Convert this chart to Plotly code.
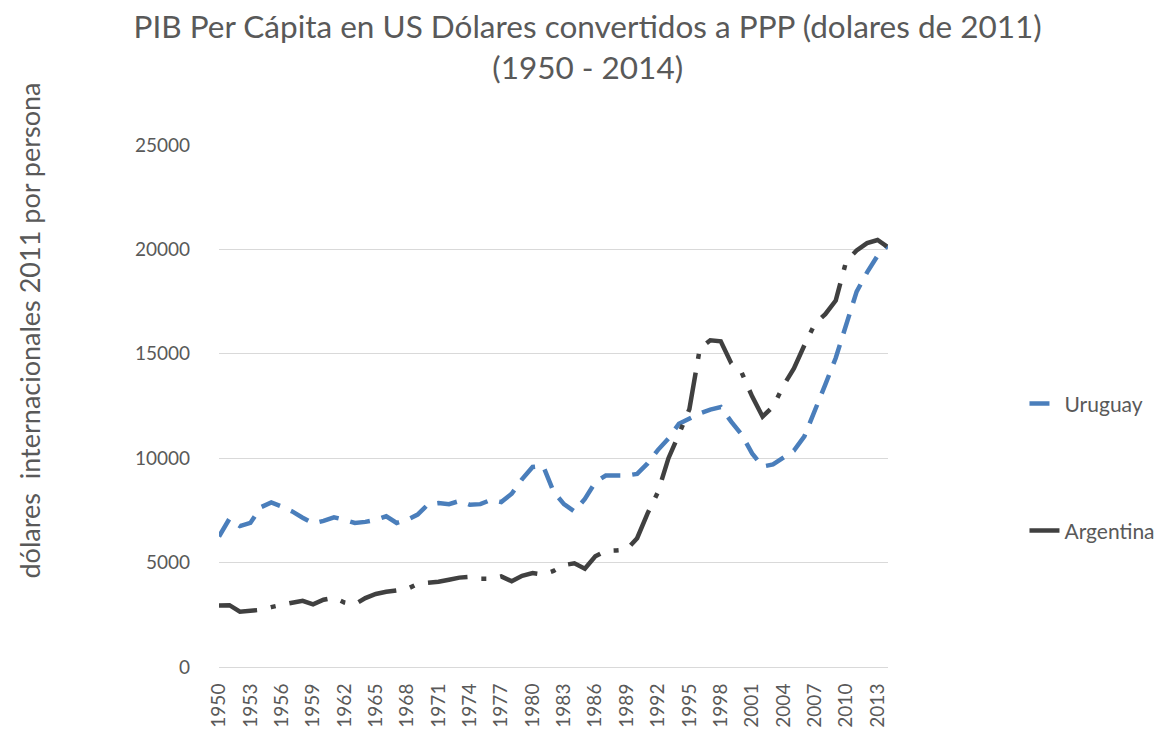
"""PIB per cápita Uruguay vs Argentina (1950-2014), estilo gráfico de Excel."""

import plotly.graph_objects as go

ANIOS = list(range(1950, 2015))

URUGUAY = [
    6250, 7100, 6750, 6900, 7650, 7880, 7680, 7450, 7150, 6880,
    7000, 7170, 7050, 6900, 6950, 7050, 7220, 6900, 7050, 7300,
    7790, 7850, 7800, 7950, 7770, 7800, 8000, 7900, 8300, 9000,
    9580, 9640, 8400, 7800, 7450, 8050, 8850, 9170, 9170, 9170,
    9250, 9750, 10400, 10950, 11650, 11900, 12150, 12330, 12450, 11750,
    11130, 10230, 9600, 9700, 10020, 10360, 11050, 12250, 13520, 14800,
    16450, 17980, 18900, 19700, 20200,
]

ARGENTINA = [
    2950, 2960, 2650, 2690, 2740, 2870, 2990, 3080, 3170, 3000,
    3220, 3320, 3090, 3000, 3300, 3500, 3600, 3680, 3740, 3980,
    4020, 4080, 4180, 4280, 4320, 4230, 4230, 4340, 4110, 4370,
    4500, 4430, 4600, 4880, 4970, 4710, 5300, 5560, 5580, 5620,
    6170, 7360, 8390, 10000, 11150, 12350, 15250, 15650, 15600, 14550,
    14100, 12960, 11990, 12470, 13480, 14300, 15410, 16440, 16900, 17550,
    19430, 19950, 20300, 20450, 20100,
]

ETIQUETAS_X = [str(a) for a in ANIOS[::3]]

GRIS_TEXTO = "#595959"
FUENTE = "Lato"

fig = go.Figure()

fig.add_trace(
    go.Scatter(
        x=[str(a) for a in ANIOS],
        y=URUGUAY,
        mode="lines",
        name="Uruguay",
        line={"color": "#4a7ebb", "width": 4.5, "dash": "20px,12px"},
        legend="legend",
    )
)
fig.add_trace(
    go.Scatter(
        x=[str(a) for a in ANIOS],
        y=ARGENTINA,
        mode="lines",
        name="Argentina",
        line={"color": "#404040", "width": 4.5, "dash": "40px,14px,5px,14px"},
        legend="legend2",
    )
)

fig.add_annotation(
    text="dólares  internacionales 2011 por persona",
    textangle=-90,
    xref="paper",
    yref="paper",
    x=-0.283,
    y=0.644,
    xanchor="center",
    yanchor="middle",
    showarrow=False,
    font={"family": FUENTE, "size": 27, "color": GRIS_TEXTO},
)

# La página deja 8 px de margen en el body: la figura se reduce en esa medida.
fig.update_layout(
    width=1157,
    height=725,
    title={
        "text": "PIB Per Cápita en US Dólares convertidos a PPP (dolares de 2011)<br>(1950 - 2014)",
        "x": 0.501,
        "xanchor": "center",
        "yref": "container",
        "y": 0.958,
        "yanchor": "middle",
        "font": {"family": FUENTE, "size": 31.5, "color": GRIS_TEXTO},
    },
    font={"family": FUENTE, "color": GRIS_TEXTO},
    plot_bgcolor="white",
    paper_bgcolor="white",
    margin={"l": 211, "r": 277, "t": 137, "b": 66, "autoexpand": False},
    xaxis={
        "type": "category",
        "tickmode": "array",
        "tickvals": ETIQUETAS_X,
        "ticktext": ETIQUETAS_X,
        "tickangle": -90,
        "tickfont": {"size": 19, "color": GRIS_TEXTO},
        "showgrid": False,
        "showline": True,
        "linecolor": "#d9d9d9",
        "linewidth": 1,
        "ticks": "",
        "ticklabelstandoff": 8,
        "automargin": False,
    },
    yaxis={
        "range": [0, 25000],
        "dtick": 5000,
        "tickformat": "d",
        "tickfont": {"size": 19, "color": GRIS_TEXTO},
        "gridcolor": "#d9d9d9",
        "gridwidth": 1,
        "zeroline": False,
        "showline": False,
        "ticks": "",
        "ticklabelstandoff": 28,
        "automargin": False,
    },
    legend={
        "x": 1.204,
        "y": 0.504,
        "xanchor": "left",
        "yanchor": "middle",
        "font": {"family": FUENTE, "size": 21, "color": GRIS_TEXTO},
        "bgcolor": "rgba(0,0,0,0)",
    },
    legend2={
        "x": 1.204,
        "y": 0.261,
        "xanchor": "left",
        "yanchor": "middle",
        "font": {"family": FUENTE, "size": 21, "color": GRIS_TEXTO},
        "bgcolor": "rgba(0,0,0,0)",
    },
    showlegend=True,
)

fig.write_html("out.html")
